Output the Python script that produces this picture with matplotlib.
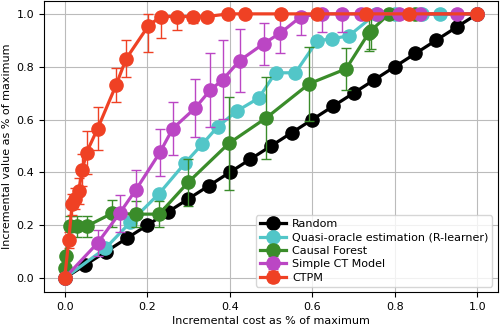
import numpy as np
import matplotlib
matplotlib.use("Agg")
import matplotlib.pyplot as plt

# values
rand_x = [0.0, 0.05, 0.1, 0.15, 0.2, 0.25, 0.3, 0.35, 0.4, 0.45, 0.5,
          0.55, 0.6, 0.65, 0.7, 0.75, 0.8, 0.85, 0.9, 0.95, 1.0]
rand_y = [0.0, 0.05, 0.1, 0.15, 0.2, 0.25, 0.3, 0.35, 0.4, 0.45, 0.5,
          0.55, 0.6, 0.65, 0.7, 0.75, 0.8, 0.85, 0.9, 0.95, 1.0]

rl_x = [0.0, 0.099, 0.159, 0.229, 0.292, 0.333, 0.371, 0.417, 0.47, 0.511,
        0.559, 0.612, 0.648, 0.689, 0.754, 0.80, 0.866, 0.91, 1.0]
rl_y = [0.0, 0.113, 0.211, 0.32, 0.436, 0.506, 0.573, 0.632, 0.681, 0.777,
        0.777, 0.898, 0.906, 0.917, 1.0, 1.0, 1.0, 1.0, 1.0]

cf_x = [0.0, 0.002, 0.003, 0.014, 0.029, 0.053, 0.115, 0.173, 0.229, 0.299,
        0.398, 0.489, 0.593, 0.682, 0.737, 0.742, 0.786, 0.85, 1.0]
cf_y = [0.0, 0.038, 0.083, 0.196, 0.196, 0.196, 0.245, 0.242, 0.242, 0.362,
        0.51, 0.607, 0.736, 0.792, 0.928, 0.936, 1.0, 1.0, 1.0]
cf_err = [0.0, 0.0, 0.0, 0.04, 0.04, 0.04, 0.05, 0.05, 0.05, 0.09,
          0.175, 0.155, 0.14, 0.08, 0.07, 0.07, 0.0, 0.0, 0.0]

ct_x = [0.0, 0.08, 0.133, 0.173, 0.231, 0.262, 0.316, 0.352, 0.383, 0.424,
        0.482, 0.523, 0.573, 0.624, 0.672, 0.718, 0.757, 0.81, 0.862, 0.95, 1.0]
ct_y = [0.0, 0.133, 0.245, 0.335, 0.476, 0.566, 0.643, 0.71, 0.751, 0.823,
        0.887, 0.928, 0.99, 1.0, 1.0, 1.0, 1.0, 1.0, 1.0, 1.0, 1.0]
ct_err = [0.0, 0.05, 0.07, 0.075, 0.09, 0.1, 0.11, 0.14, 0.15, 0.12,
          0.08, 0.075, 0.07, 0.07, 0.07, 0.0, 0.0, 0.0, 0.0, 0.0, 0.0]

ctpm_x = [0.0, 0.01, 0.018, 0.025, 0.034, 0.043, 0.053, 0.08, 0.125, 0.149,
          0.203, 0.233, 0.272, 0.31, 0.345, 0.397, 0.436, 0.525, 0.612, 0.73,
          0.834, 1.0]
ctpm_y = [0.0, 0.143, 0.28, 0.30, 0.33, 0.41, 0.475, 0.566, 0.732, 0.83,
          0.955, 0.99, 0.99, 0.99, 0.99, 1.0, 1.0, 1.0, 1.0, 1.0, 1.0, 1.0]
ctpm_err = [0.0, 0.03, 0.04, 0.04, 0.05, 0.06, 0.08, 0.08, 0.065, 0.07,
            0.10, 0.08, 0.05, 0.025, 0.01, 0.0, 0.0, 0.0, 0.0, 0.0, 0.0, 0.0]

labels = ["Random", "Quasi-oracle estimation (R-learner)", "Causal Forest",
          "Simple CT Model", "CTPM"]
colors = ["#000000", "#52c6c8", "#3a8c2a", "#bb46c4", "#ef4124"]


def clip_err(y, err):
    # error bars stop at 1.0 in the reference
    y = np.array(y)
    err = np.array(err)
    upper = np.minimum(y + err, 1.0) - y
    return [err, upper]


plt.rcParams['font.family'] = 'DejaVu Sans'
plt.rcParams['font.size'] = 8

fig = plt.figure(figsize=(5, 3.26), dpi=100)
ax = fig.add_axes([0.088, 0.104, 0.908, 0.894])

style = dict(marker='o', markersize=9.5, linewidth=2.3, capsize=3.5,
             elinewidth=1.0, capthick=1.0)

ax.plot(rand_x, rand_y, color=colors[0], marker='o', markersize=9.5,
        linewidth=2.3, label=labels[0])
ax.plot(rl_x, rl_y, color=colors[1], marker='o', markersize=9.5,
        linewidth=2.3, label=labels[1])
ax.errorbar(cf_x, cf_y, yerr=clip_err(cf_y, cf_err), color=colors[2],
            label=labels[2], **style)
ax.errorbar(ct_x, ct_y, yerr=clip_err(ct_y, ct_err), color=colors[3],
            label=labels[3], **style)
ax.errorbar(ctpm_x, ctpm_y, yerr=clip_err(ctpm_y, ctpm_err), color=colors[4],
            label=labels[4], **style)

ax.set_xlim(-0.05, 1.05)
ax.set_ylim(-0.053, 1.05)
ax.set_xticks(np.arange(0, 1.01, 0.2))
ax.set_yticks(np.arange(0, 1.01, 0.2))
ax.grid(True, color='#bbbbbb', linewidth=0.8)
ax.set_axisbelow(True)
ax.set_xlabel("Incremental cost as % of maximum", labelpad=3)
ax.set_ylabel("Incremental value as % of maximum", labelpad=3)

ax.legend(loc='lower right', fontsize=8, handlelength=2.3,
          borderaxespad=0.5, labelspacing=0.3, borderpad=0.35,
          handletextpad=0.6, framealpha=0.8)

fig.savefig("out.png", dpi=100)
